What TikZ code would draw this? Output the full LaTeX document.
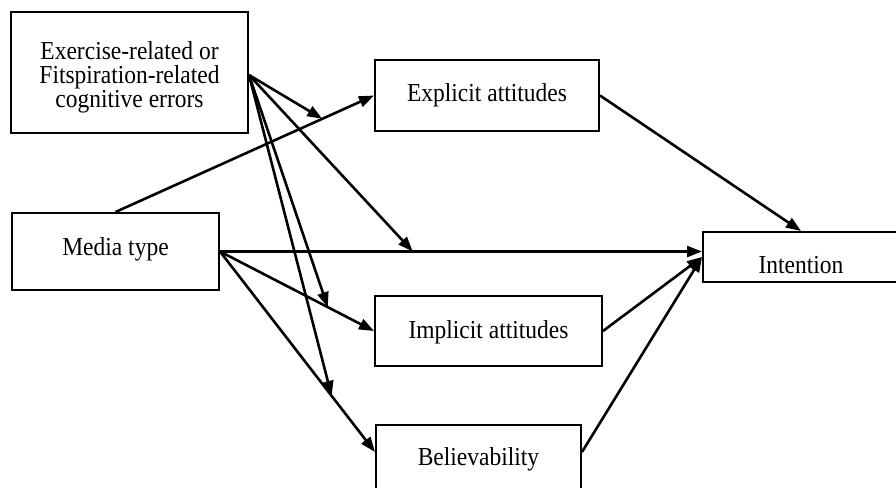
\documentclass[tikz,border=0pt]{standalone}
\usepackage{fontspec}
\usepackage{graphicx}
\setmainfont{Liberation Serif}
\usetikzlibrary{arrows.meta,calc}
\newcommand{\vtall}[1]{\scalebox{1}[1.1]{#1}}
\begin{document}
\begin{tikzpicture}[x=1pt,y=-1pt,
  box/.style={draw, line width=2pt, inner sep=0pt, font=\fontsize{23.5}{22.5}\selectfont},
  arr/.style={line width=2.6pt, -{Triangle[length=15pt,width=11pt]}},
  lbl/.style={inner sep=0pt, font=\fontsize{23.5}{20.5}\selectfont}]
\useasboundingbox (0,0) rectangle (896,487);
\fill[white] (0,0) rectangle (896,487);
% boxes
\node[box, minimum width=237pt, minimum height=121pt] (cog) at (129.5,72.5) {};
\node[lbl] (cogtxt) at (129.5,78) {\vtall{\begin{tabular}{@{}c@{}}Exercise-related or\\Fitspiration-related\\cognitive errors\end{tabular}}};
\node[box, minimum width=224pt, text height=41pt, text depth=30pt] (expl) at (487,95.5) {\vtall{Explicit attitudes}};
\node[box, minimum width=207pt, text height=42pt, text depth=35pt] (media) at (115.5,251.5) {\vtall{Media type}};
\node[box, minimum width=196pt, text height=41pt, text depth=9pt] (int) at (801,257) {\vtall{Intention}};
\node[box, minimum width=227pt, text height=42pt, text depth=28pt] (impl) at (488.5,331) {\vtall{Implicit attitudes}};
\node[box, minimum width=205pt, text height=40pt, text depth=30pt] (bel) at (478.5,460) {\vtall{Believability}};
% anchor points
\coordinate (cogout) at ($(cog.east)+(0,2.5)$);
\coordinate (belout) at ([yshift=-28pt]bel.north east);
\coordinate (belin) at ([yshift=-28pt]bel.north west);
% media type paths
\draw[arr] (media.north) -- coordinate[pos=0.8] (m1) (expl.west);
\draw[arr] (media.east) -- coordinate[pos=0.4] (m2) (media.east -| int.west);
\draw[arr] (media.east) -- coordinate[pos=0.7] (m3) (impl.west);
\draw[arr] (media.east) -- coordinate[pos=0.72] (m4) (belin);
% moderation arrows
\draw[arr] (cogout) -- (m1);
\draw[arr] (cogout) -- (m2);
\draw[arr] (cogout) -- (m3);
\draw[arr] (cogout) -- (m4);
% to intention
\draw[arr] (expl.east) -- (int.north);
\draw[arr] (impl.east) -- (int.west);
\draw[arr] (belout) -- (int.west);
\end{tikzpicture}
\end{document}
